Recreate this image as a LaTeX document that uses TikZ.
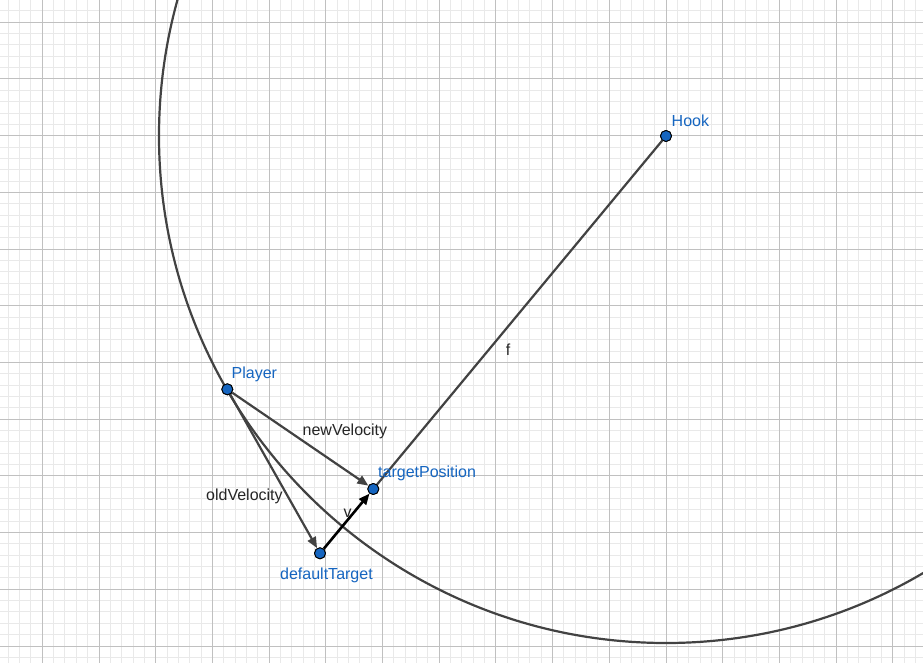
\documentclass[tikz,border=0pt]{standalone}
\usepackage{fontspec}
\setmainfont{Liberation Sans}
\usetikzlibrary{arrows.meta}
\definecolor{ggblue}{RGB}{21,101,192}
\definecolor{ggline}{RGB}{66,66,66}
\definecolor{majorgrid}{RGB}{192,192,192}
\definecolor{minorgrid}{RGB}{233,233,233}
\begin{document}
\begin{tikzpicture}[x=1pt,y=-1pt,
  pt/.style={circle,fill=ggblue,draw=black,line width=0.9pt,minimum size=11pt,inner sep=0pt},
  ptlabel/.style={text=ggblue,font=\fontsize{16}{16}\selectfont,inner sep=0pt,anchor=west},
  lbl/.style={text=black!85,font=\fontsize{16}{16}\selectfont,inner sep=0pt},
  vec/.style={draw=ggline,line width=2.2pt,-{Triangle[length=11pt,width=9pt]}},
  vvec/.style={draw=black,line width=2.6pt,-{Triangle[length=11pt,width=9pt]}},
  seg/.style={draw=ggline,line width=2.2pt},
  minorline/.style={draw=minorgrid,line width=1pt},
  majorline/.style={draw=majorgrid,line width=1pt}]
\useasboundingbox (0,0) rectangle (923,663);
\fill[white] (0,0) rectangle (923,663);
% grid
\foreach \k in {0,...,80} \draw[minorline] ({8.28+\k*11.34},0) -- ({8.28+\k*11.34},663);
\foreach \k in {0,...,57} \draw[minorline] (0,{10.96+\k*11.34}) -- (923,{10.96+\k*11.34});
\foreach \k in {0,...,15} \draw[majorline] ({42.3+\k*56.7},0) -- ({42.3+\k*56.7},663);
\foreach \k in {0,...,11} \draw[majorline] (0,{22.3+\k*56.7}) -- (923,{22.3+\k*56.7});
% circle
\begin{scope}
\clip (0,0) rectangle (923,663);
\draw[ggline,line width=2.2pt] (666,136) circle (507);
\end{scope}
% points
\node[pt] (hook) at (666,136) {};
\node[pt] (player) at (227.3,389.3) {};
\node[pt] (default) at (320,553.3) {};
\node[pt] (target) at (373.3,489) {};
% connectors
\draw[seg] (hook) -- (target);
\draw[vec] (player) -- (default);
\draw[vec] (player) -- (target);
\draw[vvec] (default) -- (target);
% redraw points on top
\node[pt] (hook2) at (hook) {};
\node[pt] (player2) at (player) {};
\node[pt] (default2) at (default) {};
\node[pt] (target2) at (target) {};
% labels
\node[ptlabel] (hooklbl) at (671.5,120.5) {Hook};
\node[ptlabel] (playerlbl) at (231.5,374.5) {Player};
\node[ptlabel] (targetlbl) at (378,473.5) {targetPosition};
\node[ptlabel] (defaultlbl) at (280,575) {defaultTarget};
\node[lbl,anchor=west] (newlbl) at (302.5,431) {newVelocity};
\node[lbl,anchor=west] (oldlbl) at (206,496.5) {oldVelocity};
\node[lbl] (vlbl) at (347.5,513) {v};
\node[lbl] (flbl) at (508,349.5) {f};
\end{tikzpicture}
\end{document}
